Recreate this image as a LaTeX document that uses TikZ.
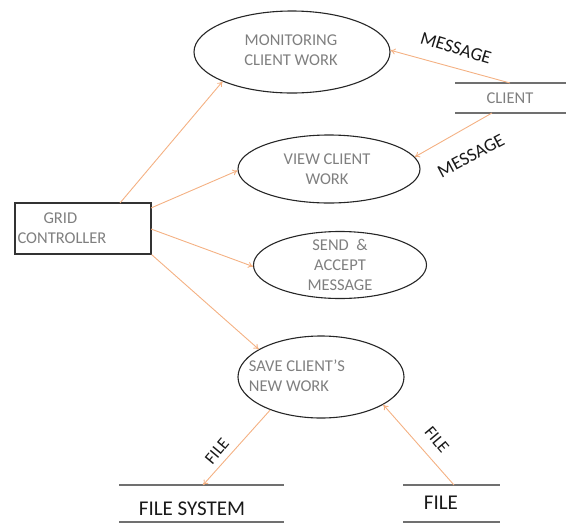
\documentclass[tikz,border=0pt]{standalone}
\usepackage{fontspec}
\setmainfont{Carlito}
\usetikzlibrary{shapes.geometric,arrows.meta}
\definecolor{flow}{HTML}{F4B183}
\definecolor{gtext}{HTML}{7F7F7F}
\definecolor{storeline}{HTML}{707070}
\tikzset{
  proc/.style={draw=black!85,line width=1.1pt,ellipse,inner sep=0pt},
  ptext/.style={text=gtext,font=\fontsize{16.5}{20}\selectfont,align=center,inner sep=0pt},
  flowarrow/.style={draw=flow,line width=0.9pt,-{To[length=5pt,width=6pt]}},
  flowlabel/.style={text=black!90,font=\fontsize{18.5}{20}\selectfont,inner sep=0pt},
  filelabel/.style={text=black!90,font=\fontsize{17}{20}\selectfont,inner sep=0pt},
  storebar/.style={draw=storeline,line width=1.6pt},
  storetext/.style={text=black!90,font=\fontsize{21}{24}\selectfont,inner sep=0pt},
  boxnode/.style={draw=black!80,line width=1.2pt,rectangle,inner sep=0pt}
}
\begin{document}
\begin{tikzpicture}[x=1pt,y=-1pt]
\useasboundingbox (0,0) rectangle (566,523);
% processes
\node[proc,minimum width=196pt,minimum height=82pt] (mon) at (292,52) {};
\node[ptext] (montxt) at (291,50) {MONITORING\\CLIENT WORK};
\node[proc,minimum width=182pt,minimum height=68pt] (view) at (329,169) {};
\node[ptext] (viewtxt) at (327,169) {VIEW CLIENT\\WORK};
\node[proc,minimum width=173pt,minimum height=67pt] (send) at (340,265) {};
\node[ptext] (sendtxt) at (340,265) {SEND \ \&\\ACCEPT\\MESSAGE};
\node[proc,minimum width=166pt,minimum height=82pt] (save) at (321,377) {};
\node[ptext,align=left] (savetxt) at (297,376) {SAVE CLIENT'S\\NEW WORK};
% controller
\node[boxnode,minimum width=136pt,minimum height=51pt] (grid) at (83,228.5) {};
\node[ptext,align=left] (gridtxt) at (62,228) {\hspace*{26pt}GRID\\CONTROLLER};
% stores
\draw[storebar] (455,83) coordinate (cltl) -- (566,83) coordinate (cltr);
\draw[storebar] (455,113) coordinate (clbl) -- (566,113) coordinate (clbr);
\node[ptext] (client) at (510,98) {CLIENT};
\draw[storebar] (119,485) coordinate (fstl) -- (284,485) coordinate (fstr);
\draw[storebar] (119,522) coordinate (fsbl) -- (284,522) coordinate (fsbr);
\node[storetext] (fs) at (192,509) {FILE SYSTEM};
\draw[storebar] (403,485) coordinate (ftl) -- (500,485) coordinate (ftr);
\draw[storebar] (403,522) coordinate (fbl) -- (500,522) coordinate (fbr);
\node[storetext] (file) at (441,503) {FILE};
% connector end points on edges
\coordinate (g1) at (120,203);
\coordinate (g2) at (151,208);
\coordinate (g3) at (151,229);
\coordinate (c1) at (510,83);
\coordinate (c2) at (492,113);
\coordinate (fsin) at (203,485);
\coordinate (fout) at (454,485);
% flows
\draw[flowarrow] (g1) -- (mon.203);
\draw[flowarrow] (g2) -- (view.181);
\draw[flowarrow] (g3) -- (send.181);
\draw[flowarrow] (grid.south east) -- (save.156);
\draw[flowarrow] (c1) -- (mon.1);
\draw[flowarrow] (c2) -- (view.8);
\draw[flowarrow] (save.213) -- (fsin);
\draw[flowarrow] (fout) -- (save.336);
% labels
\node[flowlabel,rotate=-17] (m1) at (456,48) {MESSAGE};
\node[flowlabel,rotate=28] (m2) at (471,156) {MESSAGE};
\node[filelabel,rotate=50] (f1) at (217,451) {FILE};
\node[filelabel,rotate=-50] (f2) at (437,440) {FILE};
\end{tikzpicture}
\end{document}
